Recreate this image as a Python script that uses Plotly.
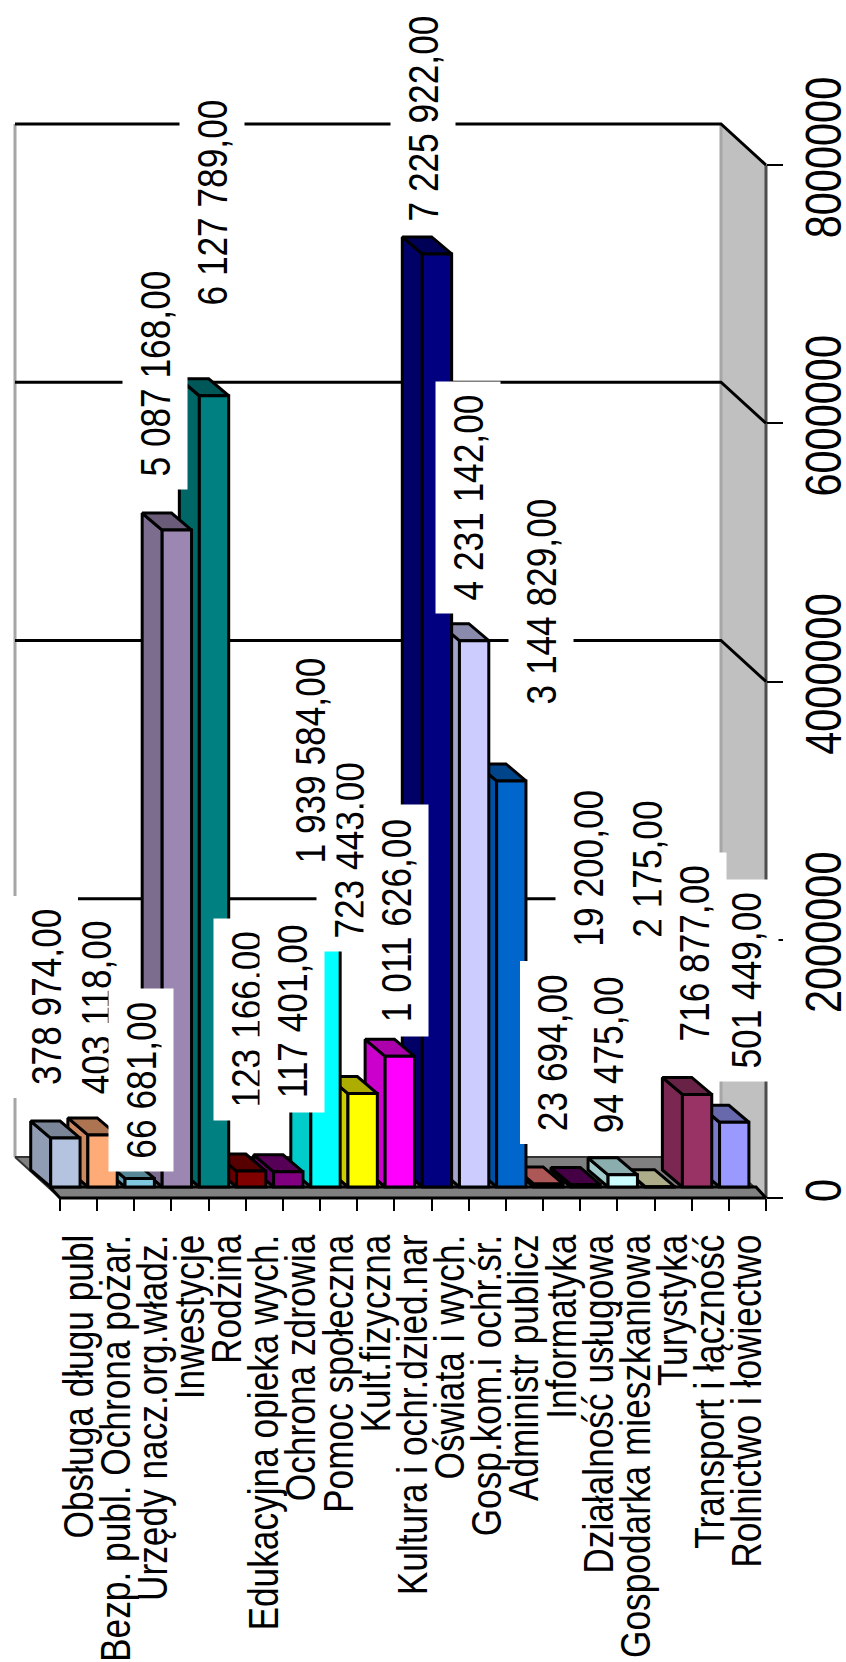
import plotly.graph_objects as go

categories = ["Obsługa długu publ", "Bezp. publ. Ochrona pożar.", "Urzędy nacz.org.władz.", "Inwestycje", "Rodzina",
              "Edukacyjna opieka wych.", "Ochrona zdrowia", "Pomoc społeczna", "Kult.fizyczna",
              "Kultura i ochr.dzied.nar", "Oświata i wych.", "Gosp.kom.i ochr.śr.", "Administr publicz",
              "Informatyka", "Działalność usługowa", "Gospodarka mieszkaniowa", "Turystyka",
              "Transport i łączność", "Rolnictwo i łowiectwo"]
values = [378974, 403118, 66681, 5087168, 6127789, 123166, 117401, 1939584, 723443, 1011626,
          7225922, 4231142, 3144829, 23694, 19200, 94475, 2175, 716877, 501449]
value_ticks = [0, 2000000, 4000000, 6000000, 8000000]

colors = ["#B4C4E0", "#FFAB78", "#80C8E0", "#9C87B2", "#008080", "#800000", "#800080", "#00FFFF", "#FFFF00", "#FF00FF",
          "#000080", "#CCCCFF", "#0066CC", "#FF8080", "#660066", "#CCFFFF", "#FFFFCC", "#993366", "#9999FF"]

# label centres on the page, in pixels
label_cx = [45.5, 96, 141, 155, 212, 246, 292, 310, 349, 396, 423, 468, 541, 552.5, 588, 607.5, 647, 694, 746]
label_cy = [997, 1008, 1080, 373, 202, 1020, 1012, 760, 850, 921, 119, 498, 601, 1052, 868, 1055, 869, 953, 980]
label_order = [0, 1, 2, 3, 4, 5, 6, 8, 7, 9, 10, 11, 12, 13, 14, 15, 16, 17, 18]
label_box = [64, 64, 64, 64, 64, 64, 64, 52, 64, 64, 64, 64, 64, 64, 64, 64, 64, 64, 64]

W, H = 846, 1662
AX_L, AX_R, AX_BOTTOM, AX_TOP = 60, 766, 1198, 165
YMAX = 8000000
n = len(categories)
PX_X = (AX_R - AX_L) / n
PX_Y = (AX_BOTTOM - AX_TOP) / YMAX
XL, XR = -0.5, n - 0.5
FONT = "Liberation Sans, Arial, sans-serif"
LW = 3

x_rng = [XL - AX_L / PX_X, XL + (W - AX_L) / PX_X]
y_rng = [-(H - AX_BOTTOM) / PX_Y, AX_BOTTOM / PX_Y]

WALL_DX, WALL_DY = 45 / PX_X, 41 / PX_Y      # depth of the chart box
BAR_DX, BAR_DY = 20 / PX_X, 17 / PX_Y        # depth of one bar
BASE = 11 / PX_Y                             # bar foot above the axis line
BAR_W, BAR_SHIFT = 0.79, 0.355


def shade(hex_c, k):
    r, g, b = (int(hex_c[i:i + 2], 16) for i in (1, 3, 5))
    return f"rgb({int(r * k)},{int(g * k)},{int(b * k)})"


fig = go.Figure()


def poly(xs, ys, fill, line="black", lw=LW):
    fig.add_trace(go.Scatter(x=xs, y=ys, mode="lines", fill="toself", fillcolor=fill,
                             line=dict(color=line, width=lw), hoverinfo="skip", showlegend=False,
                             xaxis="x", yaxis="y"))


def line(xs, ys, color, lw):
    fig.add_trace(go.Scatter(x=xs, y=ys, mode="lines", line=dict(color=color, width=lw),
                             hoverinfo="skip", showlegend=False, xaxis="x", yaxis="y"))


# box: right wall, floor, grid lines
bl, br = XL - WALL_DX, XR - WALL_DX
poly([br, XR, XR, br, br], [WALL_DY + YMAX, YMAX, 0, WALL_DY, WALL_DY + YMAX], "#C0C0C0", "rgba(0,0,0,0)", 0)
line([br, br], [WALL_DY, WALL_DY + YMAX], "#A6A6A6", 3)
line([XR, XR], [0, YMAX], "#4D4D4D", 3)
line([bl, bl], [WALL_DY, WALL_DY + YMAX], "#A6A6A6", 3)
for t in value_ticks[1:]:
    line([bl, br, XR], [t + WALL_DY, t + WALL_DY, t], "black", LW)
poly([bl, br, XR, XL, bl], [WALL_DY, WALL_DY, 0, 0, WALL_DY], "#808080", "#333333", 2)
strip_l = XL - 10 / PX_X
strip_r = XR - 10 / PX_X
poly([strip_l, strip_r, XR, XL, strip_l], [BASE, BASE, 0, 0, BASE], "#808080", "black", LW)

# bar side and top faces, far right first
for i in range(n - 1, -1, -1):
    left = i - BAR_SHIFT - BAR_W / 2
    right = left + BAR_W
    top = BASE + values[i]
    poly([left, left - BAR_DX, left - BAR_DX, left, left],
         [BASE, BASE + BAR_DY, top + BAR_DY, top, BASE], shade(colors[i], 0.8))
    poly([left, left - BAR_DX, right - BAR_DX, right, left],
         [top, top + BAR_DY, top + BAR_DY, top, top], shade(colors[i], 0.68))

# bar fronts
fig.add_trace(go.Bar(x=[i - BAR_SHIFT for i in range(n)], y=values, base=BASE, width=BAR_W,
                     marker=dict(color=colors, line=dict(color="black", width=LW)),
                     showlegend=False, hoverinfo="skip", xaxis="x2", yaxis="y2"))

# real axes
fig.add_trace(go.Scatter(x=categories, y=values, mode="markers", marker=dict(size=1, opacity=0),
                         showlegend=False, hoverinfo="skip", xaxis="x3", yaxis="y3"))

annotations = []
for i in label_order:
    v = values[i]
    txt = f"{v:,.2f}".replace(",", " ").replace(".", ",")
    digits = sum(c.isdigit() for c in txt)
    seps = len(txt) - digits
    annotations.append(dict(
        x=i, y=v, xref="x", yref="y",
        xshift=label_cx[i] - (AX_L + (i - XL) * PX_X),
        yshift=(AX_BOTTOM - v * PX_Y) - label_cy[i],
        text=txt, showarrow=False, textangle=-90, xanchor="center", yanchor="middle",
        width=(digits + seps / 2) * 19.7 + 24, height=label_box[i], bgcolor="white", borderpad=0,
        font=dict(family=FONT, size=43, color="black")))

hidden = dict(visible=False, fixedrange=True)
fig.update_layout(
    width=W, height=H, margin=dict(l=0, r=0, t=0, b=0, autoexpand=False),
    paper_bgcolor="white", plot_bgcolor="rgba(0,0,0,0)",
    showlegend=False, annotations=annotations,
    xaxis=dict(domain=[0, 1], range=x_rng, **hidden),
    yaxis=dict(domain=[0, 1], range=y_rng, **hidden),
    xaxis2=dict(domain=[0, 1], range=x_rng, overlaying="x", anchor="y2", **hidden),
    yaxis2=dict(domain=[0, 1], range=y_rng, overlaying="y", anchor="x2", **hidden),
    xaxis3=dict(domain=[AX_L / W, AX_R / W], anchor="y3", type="category", categoryorder="array",
                categoryarray=categories, range=[XL, XR], tickmode="array", tickvals=categories, ticktext=categories,
                tickson="boundaries", ticks="outside", ticklen=12, tickwidth=1.5, tickcolor="black",
                tickangle=-90, showgrid=False, zeroline=False, showline=False, ticklabelstandoff=27,
                tickfont=dict(family=FONT, size=43, color="black")),
    yaxis3=dict(domain=[1 - AX_BOTTOM / H, 1 - AX_TOP / H], anchor="x3", side="right", range=[0, YMAX],
                tickmode="array", tickvals=value_ticks, ticktext=[str(t) for t in value_ticks],
                ticks="outside", ticklen=16, tickwidth=1.5, tickcolor="black", tickangle=-90,
                showgrid=False, zeroline=False, showline=False, ticklabelstandoff=-2,
                tickfont=dict(family=FONT, size=50, color="black")),
)

# the reference lettering is condensed: squeeze real text along its baseline
squeeze = """
document.body.style.margin = '0';
var gd = document.getElementById('{plot_id}');
function squeeze(sel, k) {
  document.querySelectorAll(sel).forEach(function (t) {
    if (t.dataset.sq) return;
    t.dataset.sq = '1';
    t.setAttribute('lengthAdjust', 'spacingAndGlyphs');
    t.setAttribute('textLength', t.getComputedTextLength() * k);
  });
}
function run() {
  squeeze('text.annotation-text', 0.82);
  squeeze('g.x3tick text', 0.82);
  squeeze('g.y3tick text', 0.83);
}
gd.on('plotly_afterplot', run);
run();
setTimeout(run, 30);
"""
fig.write_html("out.html", post_script=squeeze, config=dict(displayModeBar=False))
